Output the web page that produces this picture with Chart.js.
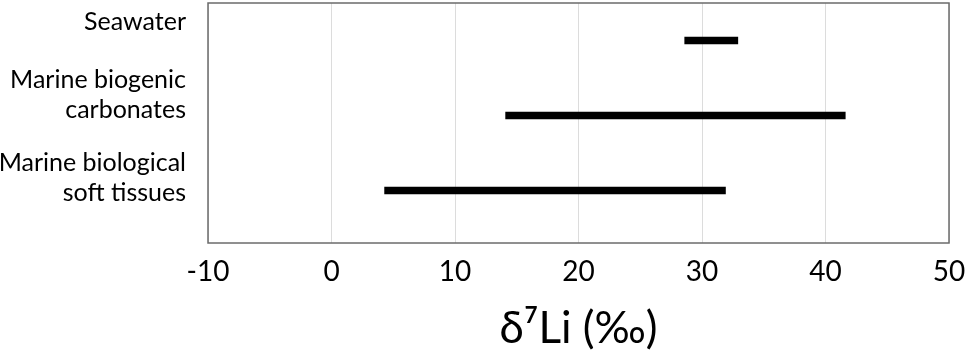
<!DOCTYPE html>
<html>
<head>
<meta charset="utf-8">
<script src="https://cdn.jsdelivr.net/npm/chart.js@4"></script>
<style>
  html, body { margin: 0; padding: 0; background: #fff; }
  #wrap { width: 969px; height: 357px; }
</style>
</head>
<body>
<div id="wrap"><canvas id="lithium_chart"></canvas></div>
<script>
// rows of the chart, top to bottom
var categories = ['Seawater', ['Marine biogenic', 'carbonates'], ['Marine biological', 'soft tissues']];
var lowValues = [28.6, 14.1, 4.3];   // range start, δ7Li ‰
var highValues = [32.9, 41.6, 31.9]; // range end, δ7Li ‰
var xTicks = [-10, 0, 10, 20, 30, 40, 50];

var FONT = 'Lato, "Open Sans", sans-serif';

// box around the plot area
var frame = {
    id: 'frame',
    afterDraw: function(chart) {
        var a = chart.chartArea, ctx = chart.ctx;
        ctx.save();
        ctx.strokeStyle = '#6b6b6b';
        ctx.lineWidth = 1.5;
        ctx.strokeRect(a.left, a.top, a.right - a.left, a.bottom - a.top);
        ctx.restore();
    }
};

var rows = categories.map(function(c, i) {
    return { x: [lowValues[i], highValues[i]], y: i };
});

new Chart(document.getElementById('lithium_chart').getContext('2d'), {
    type: 'bar',
    data: {
        datasets: [{
            data: rows,
            backgroundColor: '#000',
            borderWidth: 0,
            barThickness: 7
        }]
    },
    plugins: [frame],
    options: {
        indexAxis: 'y',
        responsive: true,
        maintainAspectRatio: false,
        animation: false,
        layout: { padding: { top: 3, right: 20, left: 0, bottom: 0 } },
        plugins: {
            legend: { display: false },
            tooltip: { enabled: false }
        },
        scales: {
            x: {
                type: 'linear',
                min: -10,
                max: 50,
                afterBuildTicks: function(scale) {
                    scale.ticks = xTicks.map(function(v) { return { value: v }; });
                },
                grid: { color: '#dcdcdc', lineWidth: 1, drawTicks: false },
                border: { display: false },
                ticks: { color: '#000', font: { family: FONT, size: 28 }, padding: 12 },
                title: {
                    display: true,
                    text: 'δ⁷Li (‰)',
                    color: '#000',
                    font: { family: FONT, size: 44 },
                    padding: { top: 0, bottom: 2 }
                },
                afterFit: function(scale) {
                    scale.height = 114;
                    scale.paddingLeft = 0;
                    scale.paddingRight = 0;
                }
            },
            y: {
                type: 'linear',
                reverse: true,
                offset: false,
                min: -0.5,
                max: 2.7,
                afterBuildTicks: function(scale) {
                    // label anchors sit a little above each bar
                    scale.ticks = [-0.25, 0.72, 1.83].map(function(v) { return { value: v }; });
                },
                grid: { display: false },
                border: { display: false },
                ticks: {
                    color: '#000',
                    font: { family: FONT, size: 25 },
                    padding: 14,
                    callback: function(value, index) { return categories[index]; }
                },
                afterFit: function(scale) {
                    scale.width = 208;
                    scale.paddingTop = 0;
                    scale.paddingBottom = 0;
                }
            }
        }
    }
});
</script>
</body>
</html>
